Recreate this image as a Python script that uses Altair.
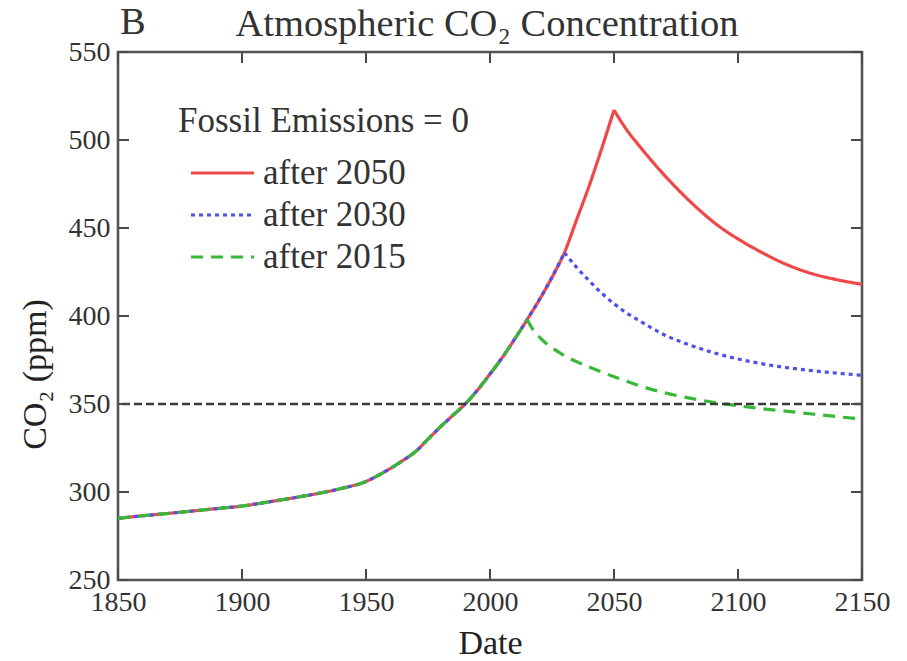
import altair as alt
import pandas as pd

# Shared historical record (all three scenarios follow it)
hist_years = [1850, 1860, 1870, 1880, 1890, 1900, 1910, 1920, 1930, 1940, 1950,
              1955, 1960, 1965, 1970, 1975, 1980, 1985, 1990, 1995, 2000, 2005, 2010, 2015]
hist_co2 = [285, 286.5, 287.8, 289.2, 290.6, 292, 294.2, 296.5, 299, 302, 306,
            309.5, 313.5, 318, 323, 330, 337, 343.5, 350, 358, 367, 376.5, 387, 398]

# Continued growth between 2015 and 2050
growth_years = [2020, 2025, 2030, 2035, 2040, 2045, 2050]
growth_co2 = [409.5, 422, 436, 455, 474, 495, 517]

# Decline once fossil emissions stop
stop2050_years = [2055, 2060, 2065, 2070, 2075, 2080, 2085, 2090, 2095, 2100,
                  2110, 2120, 2130, 2140, 2150]
stop2050_co2 = [506, 497, 488.5, 480.5, 473, 466, 459.5, 453.5, 448.3, 443.8,
                435.8, 429, 424, 420.6, 418]

stop2030_years = [2035, 2040, 2045, 2050, 2055, 2060, 2070, 2080, 2090, 2100,
                  2110, 2120, 2135, 2150]
stop2030_co2 = [427.5, 420, 413, 407, 401.8, 397.5, 389.5, 383.8, 379.2, 375.6,
                372.8, 370.6, 368.2, 366.3]

stop2015_years = [2017, 2019, 2021, 2025, 2030, 2035, 2040, 2045, 2050, 2060, 2070,
                  2080, 2090, 2100, 2110, 2120, 2130, 2140, 2150]
stop2015_co2 = [393, 389.5, 386.5, 382, 377.5, 374, 371, 368.2, 365.5, 360.5, 356.5,
                353.5, 351, 349, 347.3, 345.8, 344.3, 342.8, 341.5]

series_names = ["after 2050", "after 2030", "after 2015"]
series_colors = ["#f04848", "#4f4fea", "#38b838"]
series_dashes = [[1, 0], [4, 4], [12, 8]]

reference_level = 350
x_ticks = [1850, 1900, 1950, 2000, 2050, 2100, 2150]
y_ticks = [250, 300, 350, 400, 450, 500, 550]

FONT = "Liberation Serif"
W, H = 744, 528
TICK = 11


def scenario(name, rise_years, rise_values, fall_years, fall_values):
    # Rising and falling parts are separate segments so the turn stays sharp
    rise = pd.DataFrame({"series": name, "segment": name + " rise",
                         "year": rise_years, "co2": rise_values})
    fall = pd.DataFrame({"series": name, "segment": name + " fall",
                         "year": [rise_years[-1]] + fall_years,
                         "co2": [rise_values[-1]] + fall_values})
    return pd.concat([rise, fall], ignore_index=True)


n30 = growth_years.index(2030)
lines_df = pd.concat([
    scenario("after 2050", hist_years + growth_years, hist_co2 + growth_co2,
             stop2050_years, stop2050_co2),
    scenario("after 2030", hist_years + growth_years[:n30 + 1],
             hist_co2 + growth_co2[:n30 + 1], stop2030_years, stop2030_co2),
    scenario("after 2015", hist_years, hist_co2, stop2015_years, stop2015_co2),
], ignore_index=True)
lines_df["order"] = lines_df.index

x_scale = alt.Scale(domain=[1850, 2150], nice=False, zero=False)
y_scale = alt.Scale(domain=[250, 550], nice=False, zero=False)

x_axis = alt.Axis(values=x_ticks, format="d", title="Date", ticks=False, domain=False,
                  grid=False, labelPadding=8, titlePadding=10, labelFlush=False,
                  labelOverlap=False)
y_axis = alt.Axis(values=y_ticks, format="d", title="CO₂ (ppm)", ticks=False, domain=False,
                  grid=False, labelPadding=8, titlePadding=16, labelFlush=False,
                  labelOverlap=False, titleY=322)

lines = alt.Chart(lines_df).mark_line(strokeWidth=3.2, clip=True,
                                      interpolate="monotone").encode(
    x=alt.X("year:Q", scale=x_scale, axis=x_axis),
    y=alt.Y("co2:Q", scale=y_scale, axis=y_axis),
    color=alt.Color("series:N", scale=alt.Scale(domain=series_names, range=series_colors),
                    legend=alt.Legend(title="Fossil Emissions = 0", orient="none",
                                      legendX=60, legendY=52, symbolType="stroke",
                                      symbolSize=3969, symbolStrokeWidth=3.2,
                                      symbolOffset=11, labelOffset=7,
                                      rowPadding=0, titlePadding=13,
                                      clipHeight=42, padding=0,
                                      titleLimit=500, labelLimit=300)),
    strokeDash=alt.StrokeDash("series:N",
                              scale=alt.Scale(domain=series_names, range=series_dashes)),
    detail="segment:N",
    order="order:Q",
)

ref_df = pd.DataFrame({"level": [reference_level]})
ref_line = alt.Chart(ref_df).mark_rule(color="#3a3a3a", strokeWidth=2.6,
                                       strokeDash=[8, 4]).encode(
    y=alt.Y("level:Q", scale=y_scale)
)

# Inward-pointing tick marks on all four sides of the frame
xt = pd.DataFrame({"t": x_ticks})
yt = pd.DataFrame({"t": y_ticks})
tick_style = dict(color="#4a4a4a", strokeWidth=2)
bottom_ticks = alt.Chart(xt).mark_rule(**tick_style).encode(
    x=alt.X("t:Q", scale=x_scale), y=alt.value(H), y2=alt.value(H - TICK))
top_ticks = alt.Chart(xt).mark_rule(**tick_style).encode(
    x=alt.X("t:Q", scale=x_scale), y=alt.value(0), y2=alt.value(TICK))
left_ticks = alt.Chart(yt).mark_rule(**tick_style).encode(
    y=alt.Y("t:Q", scale=y_scale), x=alt.value(0), x2=alt.value(TICK))
right_ticks = alt.Chart(yt).mark_rule(**tick_style).encode(
    y=alt.Y("t:Q", scale=y_scale), x=alt.value(W), x2=alt.value(W - TICK))

# Panel letter and heading above the frame
heading_style = dict(font=FONT, fontSize=38.5, baseline="alphabetic", color="#333333")
panel_letter = alt.Chart(pd.DataFrame({"s": ["B"]})).mark_text(
    align="left", **heading_style
).encode(text="s:N", x=alt.value(2), y=alt.value(-18))
heading = alt.Chart(pd.DataFrame({"s": ["Atmospheric CO₂ Concentration"]})).mark_text(
    align="center", **heading_style
).encode(text="s:N", x=alt.value(369), y=alt.value(-16))

chart = alt.layer(
    lines, ref_line, bottom_ticks, top_ticks, left_ticks, right_ticks,
    panel_letter, heading
).properties(
    width=W, height=H,
    autosize=alt.AutoSizeParams(type="none"),
    padding={"left": 118, "top": 52, "right": 45, "bottom": 81},
).configure(
    background="white"
).configure_view(
    stroke="#555555", strokeWidth=2.6
).configure_axis(
    labelFont=FONT, labelFontSize=28, labelColor="#333333",
    titleFont=FONT, titleFontSize=34, titleFontWeight="normal", titleColor="#222222",
).configure_legend(
    titleFont=FONT, titleFontSize=35, titleFontWeight="normal", titleColor="#333333",
    labelFont=FONT, labelFontSize=35, labelColor="#333333",
)

chart.save("out.html", embed_options={"renderer": "svg", "actions": False})
